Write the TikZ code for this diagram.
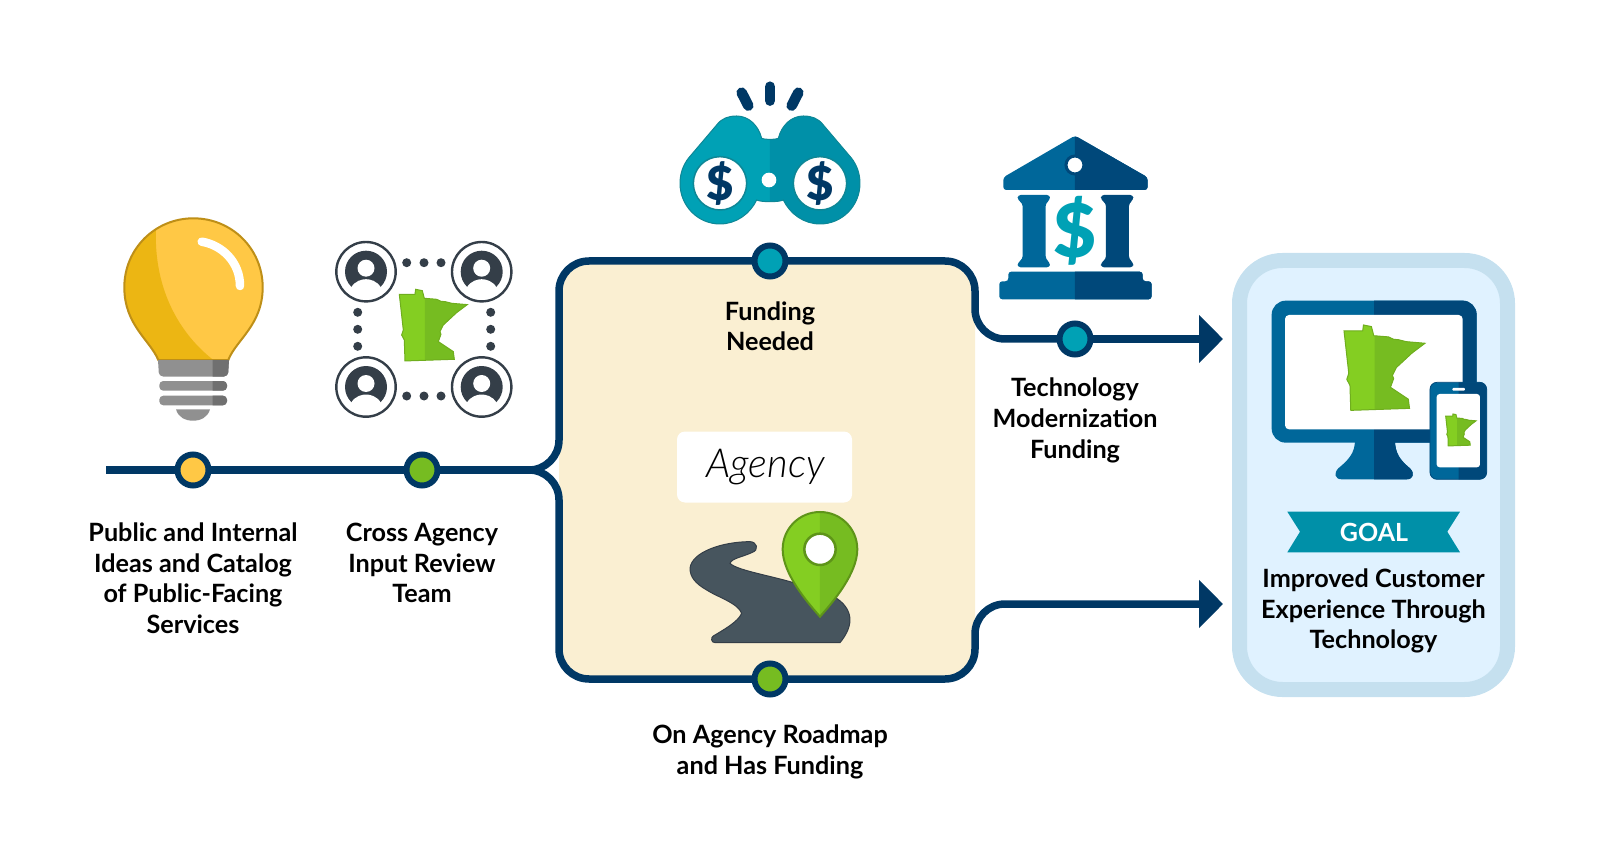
\documentclass[tikz,border=0pt]{standalone}
\usepackage{fontspec}
\setmainfont{Lato}
\newfontfamily\agencyfont{Lato Light}[ItalicFont=Lato Light Italic]
\newfontfamily\dollarfont{Lato Black}
\usetikzlibrary{arrows.meta}

\definecolor{routeblue}{HTML}{003865}
\definecolor{boxcream}{HTML}{FAEFD2}
\definecolor{bulbyellow}{HTML}{FFC845}
\definecolor{bulbdark}{HTML}{ECB613}
\definecolor{bulbedge}{HTML}{BE8F17}
\definecolor{basegray}{HTML}{909090}
\definecolor{basedark}{HTML}{707070}
\definecolor{stategreen}{HTML}{84CE22}
\definecolor{statedark}{HTML}{76BC21}
\definecolor{stateedge}{HTML}{6FAE1E}
\definecolor{slate}{HTML}{343E48}
\definecolor{roadgray}{HTML}{47555E}
\definecolor{teal}{HTML}{00A1B5}
\definecolor{tealdark}{HTML}{0090A8}
\definecolor{tealedge}{HTML}{0E8796}
\definecolor{bankblue}{HTML}{00679A}
\definecolor{bankdark}{HTML}{00487A}
\definecolor{cardedge}{HTML}{C5E0EF}
\definecolor{cardfill}{HTML}{E0F2FF}

\newcommand{\mnpath}{(0,15) -- (47,15) -- (49,0) -- (69,4) -- (75,27) -- (100,29) -- (112,30) -- (125,36) -- (137,37) -- (157,42) -- (204,46) -- (172,70) -- (132,107) -- (122,127) -- (125,135) -- (117,157) -- (162,187) -- (165,210) -- (17,215) -- (15,152) -- (7,137) -- (12,122) -- cycle}
\newcommand{\bulbpath}{(158.3,360) .. controls (150,340) and (124.3,325) .. (124.3,287.3) .. controls (124.3,249) and (155,218.3) .. (193.3,218.3) .. controls (232,218.3) and (262.7,249) .. (262.7,287.3) .. controls (262.7,325) and (236,340) .. (228.3,360) -- cycle}
\newcommand{\pinpath}{(510,590) .. controls (470,545) and (398,460) .. (398,388) .. controls (398,326) and (448,276) .. (510,276) .. controls (572,276) and (622,326) .. (622,388) .. controls (622,460) and (550,545) .. (510,590) -- cycle}
\newcommand{\binopath}{(360,208) .. controls (350,208) and (340,208) .. (335,205) .. controls (325,165) and (295,138) .. (260,138) .. controls (235,138) and (215,145) .. (200,165) -- (115,265) .. controls (100,285) and (90,310) .. (90,340) .. controls (90,407) and (143,462) .. (210,462) .. controls (258,462) and (300,432) .. (320,390) .. controls (335,397) and (385,397) .. (400,390) .. controls (420,432) and (462,462) .. (510,462) .. controls (577,462) and (630,407) .. (630,340) .. controls (630,310) and (620,285) .. (605,265) -- (520,165) .. controls (505,145) and (485,138) .. (460,138) .. controls (425,138) and (395,165) .. (385,205) .. controls (380,208) and (370,208) .. (360,208) -- cycle}
\newcommand{\roofpath}{[rounded corners=3pt] (1275,197) -- (1493,322) -- (1493,360) -- (1060,360) -- (1060,322) -- cycle}
\newcommand{\plinthpath}{[rounded corners=3pt] (1075,605) -- (1478,605) -- (1478,634) -- (1505,634) -- (1505,688) -- (1048,688) -- (1048,634) -- (1075,634) -- cycle}
\newcommand{\columnpath}{[rounded corners=3pt] (1103,375) -- (1200,375) -- (1200,390) -- (1187,400) -- (1187,567) -- (1200,578) -- (1200,592) -- (1103,592) -- (1103,578) -- (1118,567) -- (1118,400) -- (1103,390) -- cycle}
\newcommand{\standpath}{(405,570) .. controls (405,610) and (385,630) .. (355,655) .. controls (340,670) and (345,688) .. (365,688) -- (560,688) .. controls (580,688) and (585,670) .. (570,655) .. controls (540,630) and (525,610) .. (525,570) -- cycle}

\tikzset{
    route/.style={routeblue, line width=7.5pt},
    curveroute/.style={route, rounded corners=30pt},
    arrowed/.style={-{Triangle[length=24pt, width=47pt]}},
    stop/.style={circle, draw=routeblue, line width=6pt, minimum size=31pt, inner sep=0pt, outer sep=0pt},
    caption/.style={align=center, anchor=north, inner sep=0pt, font=\fontsize{25.2}{30.6}\selectfont\bfseries, text=black},
    dots/.style={slate},
    mnstate/.pic={
        \fill[stategreen] \mnpath;
        \begin{scope}
            \clip (77,-5) rectangle (230,220);
            \fill[statedark] \mnpath;
        \end{scope}
        \draw[stateedge, line width=1pt] \mnpath;
    },
    person/.pic={
        \draw[slate, line width=2.4pt] (0,0) circle (29.7);
        \fill[slate] (0,0) circle (21);
        \fill[white] (0,-3.5) circle (8.5);
        \fill[white] (-15,16) .. controls (-11,9) and (-4,7.5) .. (0,7.5) .. controls (4,7.5) and (11,9) .. (15,16) -- (15,24) -- (-15,24) -- cycle;
    },
}

\begin{document}
\begin{tikzpicture}[x=1pt, y=-1pt]
    \useasboundingbox (0,0) rectangle (1600,866);

    % beige box and goal card
    \coordinate (boxtl) at (559,261);
    \coordinate (boxtr) at (975,261);
    \coordinate (boxbl) at (559,679);
    \coordinate (boxbr) at (975,679);
    \fill[boxcream, rounded corners=30pt] (boxtl) rectangle (boxbr);
    \node[draw=cardedge, fill=cardfill, line width=15pt, rounded corners=43pt, minimum width=268pt, minimum height=429pt] (goal) at (1373.5,475) {};

    % stops
    \node[stop, fill=bulbyellow] (ideas) at (193,470) {};
    \node[stop, fill=statedark] (review) at (422,470) {};
    \node[stop, fill=teal] (funding) at (770,261) {};
    \node[stop, fill=statedark] (roadmap) at (770,679) {};
    \node[stop, fill=teal] (techfund) at (1075,339) {};
    \coordinate (linestart) at (106,470);
    \coordinate (fork) at (530,470);
    \coordinate (arrowtop) at (1223,339);
    \coordinate (arrowbot) at (1223,604);

    % route lines
    \draw[route] (linestart) -- (ideas);
    \draw[route] (ideas) -- (review);
    \draw[route] (review) -- (fork);
    \draw[curveroute] (fork) -| (boxtl) -- (funding);
    \draw[curveroute] (fork) -| (boxbl) -- (roadmap);
    \draw[curveroute] (funding) -- (boxtr) |- (techfund);
    \draw[route, arrowed] (techfund) -- (arrowtop);
    \draw[curveroute, arrowed] (roadmap) -- (boxbr) |- (arrowbot);

    % captions
    \node[caption] (ideastext) at (193,522.6) {Public and Internal\\Ideas and Catalog\\of Public-Facing\\Services};
    \node[caption] (reviewtext) at (422,523) {Cross Agency\\Input Review\\Team};
    \node[caption] (fundingtext) at (770,301.3) {Funding\\Needed};
    \node[caption] (techtext) at (1075,378) {Technology\\Modernization\\Funding};
    \node[caption] (roadmaptext) at (770,724.5) {On Agency Roadmap\\and Has Funding};
    \node[caption] (goaltext) at (1373.5,568.5) {Improved Customer\\Experience Through\\Technology};

    % light bulb
    \fill[bulbyellow] \bulbpath;
    \begin{scope}
        \clip \bulbpath;
        \fill[bulbdark] (157,215) .. controls (150,280) and (175,330) .. (213.3,360) -- (120,360) -- (120,215) -- cycle;
    \end{scope}
    \draw[bulbedge, line width=2pt] \bulbpath;
    \draw[white, line width=8.5pt, line cap=round] (201.7,241.7) .. controls (222,245) and (240,262) .. (240,286);
    \fill[basegray] (158,360) -- (229,360) [rounded corners=4pt] -- (228,376.5) -- (159,376.5) [sharp corners] -- cycle;
    \fill[basegray, rounded corners=4pt] (159.3,381) rectangle (227,390.7);
    \fill[basegray, rounded corners=4pt] (159.3,395.7) rectangle (227,405.3);
    \begin{scope}
        \clip (212.7,355) rectangle (235,410);
        \fill[basedark] (158,360) -- (229,360) [rounded corners=4pt] -- (228,376.5) -- (159,376.5) [sharp corners] -- cycle;
        \fill[basedark, rounded corners=4pt] (159.3,381) rectangle (227,390.7);
        \fill[basedark, rounded corners=4pt] (159.3,395.7) rectangle (227,405.3);
    \end{scope}
    \fill[basegray] (176,409.3) -- (210,409.3) .. controls (208,417) and (201,420.7) .. (193,420.7) .. controls (185,420.7) and (178,417) .. (176,409.3) -- cycle;

    % review team
    \foreach \px/\py in {366/271.7, 481.7/271.7, 366/387, 481.7/387}
        \pic at (\px,\py) {person};
    \foreach \dx in {406.7,424,441} {
        \fill[dots] (\dx,262.7) circle (4.5);
        \fill[dots] (\dx,396) circle (4.5);
    }
    \foreach \dy in {312.3,329.3,346.3} {
        \fill[dots] (357.7,\dy) circle (4.5);
        \fill[dots] (490.7,\dy) circle (4.5);
    }
    \pic[shift={(399.3,289.3)}, scale=0.3333] {mnstate};

    % binoculars
    \begin{scope}[shift={(650,70)}, scale=0.3333]
        \fill[teal] \binopath;
        \begin{scope}
            \clip (360,100) rectangle (660,480);
            \fill[tealdark] \binopath;
        \end{scope}
        \draw[tealedge, line width=1pt] \binopath;
        \draw[tealedge, line width=1.5pt, fill=white] (210,340) circle (80);
        \draw[tealedge, line width=1.5pt, fill=white] (510,340) circle (80);
        \fill[white] (357,330) circle (22);
        \draw[routeblue, line width=10.5pt, line cap=round] (360,50) -- (360,92);
        \draw[routeblue, line width=10.5pt, line cap=round] (275,68) -- (295,107);
        \draw[routeblue, line width=10.5pt, line cap=round] (445,68) -- (425,107);
        \node[text=routeblue, font=\fontsize{47}{47}\selectfont\dollarfont] (lensleft) at (210,340) {\$};
        \node[text=routeblue, font=\fontsize{47}{47}\selectfont\dollarfont] (lensright) at (510,340) {\$};

        % bank
        \fill[bankblue] \roofpath;
        \fill[bankblue] \plinthpath;
        \begin{scope}
            \clip (1275,190) rectangle (1520,700);
            \fill[bankdark] \roofpath;
            \fill[bankdark] \plinthpath;
        \end{scope}
        \draw[bankdark, line width=3pt, fill=white] (1275,285) circle (27);
        \fill[bankblue] \columnpath;
        \begin{scope}[shift={(250,0)}]
            \fill[bankdark] \columnpath;
        \end{scope}
        \node[text=teal, font=\fontsize{74}{74}\selectfont\dollarfont] (bankdollar) at (1275,483) {\$};
    \end{scope}

    % road and pin
    \begin{scope}[shift={(650,420)}, scale=0.3333]
        \fill[roadgray, draw=slate, line width=1pt] (300,365) .. controls (320,365) and (330,390) .. (305,398) .. controls (280,410) and (245,415) .. (240,430) .. controls (260,450) and (350,465) .. (420,485) -- (560,535) .. controls (590,555) and (600,580) .. (600,600) .. controls (600,625) and (585,650) .. (570,668) -- (195,668) .. controls (183,668) and (182,652) .. (190,648) .. controls (220,630) and (265,605) .. (275,580) .. controls (265,550) and (200,530) .. (170,510) .. controls (135,490) and (120,470) .. (120,445) .. controls (125,395) and (220,365) .. (300,365) -- cycle;
        \fill[stategreen] \pinpath;
        \begin{scope}
            \clip (510,260) rectangle (640,600);
            \fill[statedark] \pinpath;
        \end{scope}
        \draw[stateedge!85!black, line width=2pt] \pinpath;
        \draw[stateedge!85!black, line width=2.5pt, fill=white] (510,388) circle (47);
    \end{scope}
    \node[fill=white, rounded corners=8pt, minimum width=175pt, minimum height=71pt, inner sep=0pt, font=\fontsize{40}{40}\selectfont\agencyfont\itshape] (agency) at (764.5,467) {\raisebox{-2pt}{\hspace{2pt}Agency}};

    % monitor and phone
    \begin{scope}[shift={(1220,250)}, scale=0.3333]
        \fill[bankblue] \standpath;
        \fill[bankblue, rounded corners=14pt] (155,152) rectangle (770,578);
        \begin{scope}
            \clip (462,140) rectangle (790,700);
            \fill[bankdark] \standpath;
            \fill[bankdark, rounded corners=14pt] (155,152) rectangle (770,578);
        \end{scope}
        \fill[white, rounded corners=4pt] (195,195) rectangle (728,538);
        \draw[bankdark, line width=0.8pt, fill=bankblue, rounded corners=7pt] (630,397) rectangle (800,688);
        \begin{scope}
            \clip (716,390) rectangle (810,695);
            \fill[bankdark, rounded corners=7pt] (630,397) rectangle (800,688);
        \end{scope}
        \fill[white, rounded corners=3pt] (650,432) rectangle (780,652);
        \fill[white, rounded corners=1pt] (697,414) rectangle (735,422);
    \end{scope}
    \pic[shift={(1344,325)}, scale=0.397] {mnstate};
    \pic[shift={(1445.7,414)}, scale=0.1485] {mnstate};

    % goal ribbon
    \fill[tealdark] (1287.3,511.7) -- (1460,511.7) -- (1447.3,531.7) -- (1460,552.3) -- (1287.3,552.3) -- (1300,531.7) -- cycle;
    \node[text=white, font=\fontsize{25}{25}\selectfont\bfseries] (goallabel) at (1374,532) {GOAL};
\end{tikzpicture}
\end{document}
